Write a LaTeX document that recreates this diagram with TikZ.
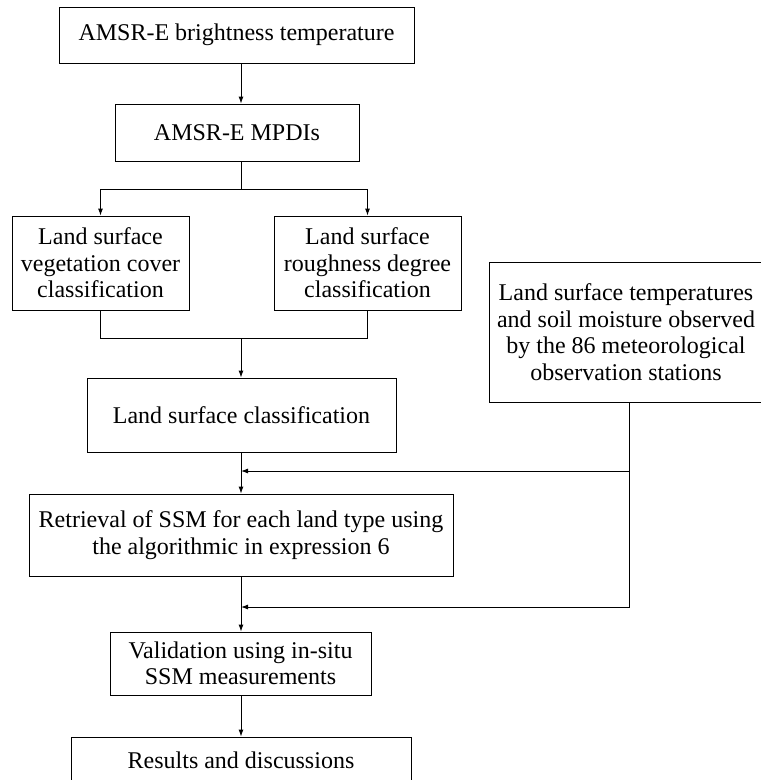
\documentclass[tikz,border=0pt]{standalone}
\usepackage{fontspec}
\setmainfont{Liberation Serif}
\usetikzlibrary{arrows.meta}

\begin{document}
\begin{tikzpicture}[x=1pt,y=-1pt,
    box/.style={draw,line width=0.9pt,align=center,inner sep=0pt,
        font=\fontsize{24}{26.5}\selectfont},
    arr/.style={line width=0.9pt,-{Latex[length=7pt,width=5pt]}},
    lin/.style={line width=0.9pt}]
    \useasboundingbox (0,0) rectangle (761,780);
    \clip (0,0) rectangle (761,780);

    \coordinate (spine) at (241,0);
    \coordinate (tx) at (629,0);
    \coordinate (split) at (241,189);
    \coordinate (merge) at (241,338);
    \coordinate (j1) at (241,471);
    \coordinate (j2) at (241,607);

    \node[box,minimum width=355,minimum height=56] (bt) at (236.5,35) {AMSR-E brightness temperature};
    \node[box,minimum width=244,minimum height=57] (mpdi) at (237,132.5) {AMSR-E MPDIs};
    \node[box,minimum width=177,minimum height=94] (veg) at (100.5,263) {Land surface\\vegetation cover\\classification};
    \node[box,minimum width=187,minimum height=94] (rough) at (367.5,263) {Land surface\\roughness degree\\classification};
    \node[box,minimum width=274,minimum height=140] (temp) at (626,332) {Land surface temperatures\\and soil moisture observed\\by the 86 meteorological\\observation stations};
    \node[box,minimum width=309,minimum height=74] (lsc) at (241.5,415) {Land surface classification};
    \node[box,minimum width=424,minimum height=82] (ret) at (241,535) {Retrieval of SSM for each land type using\\the algorithmic in expression 6};
    \node[box,minimum width=261,minimum height=63] (val) at (240.5,663.5) {Validation using in-situ\\SSM measurements};
    \node[box,minimum width=340,minimum height=46] (res) at (241,760) {Results and discussions};

    % top part
    \draw[arr] (bt.south -| spine) -- (mpdi.north -| spine);
    \draw[lin] (mpdi.south -| split) -- (split);
    \draw[arr] (split) -| (veg.north);
    \draw[arr] (split) -| (rough.north);
    \draw[lin] (veg.south) |- (rough.south |- merge) -- (rough.south);
    \draw[arr] (merge) -- (lsc.north -| merge);

    % station data
    \draw[arr] (temp.south -| tx) |- (j2);
    \draw[arr] (tx |- j1) -- (j1);

    % bottom part
    \draw[arr] (lsc.south -| spine) -- (ret.north -| spine);
    \draw[arr] (ret.south -| spine) -- (val.north -| spine);
    \draw[arr] (val.south -| spine) -- (res.north -| spine);
\end{tikzpicture}
\end{document}
